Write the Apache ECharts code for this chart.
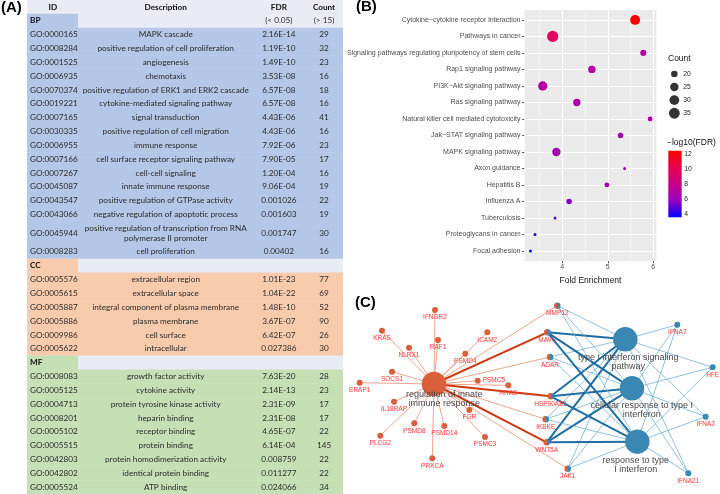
<!DOCTYPE html>
<html><head><meta charset="utf-8">
<script src="https://cdn.jsdelivr.net/npm/echarts@6/dist/echarts.min.js"></script>
<style>html,body{margin:0;padding:0;background:#fff}#c{width:720px;height:494px}</style>
</head><body><div id="c"></div>
<script>
// ================= Panel A : GO table data =================
const bpIds = ['GO:0000165','GO:0008284','GO:0001525','GO:0006935','GO:0070374','GO:0019221','GO:0007165','GO:0030335','GO:0006955','GO:0007166','GO:0007267','GO:0045087','GO:0043547','GO:0043066','GO:0045944','GO:0008283'];
const bpDesc = ['MAPK cascade','positive regulation of cell proliferation','angiogenesis','chemotaxis','positive regulation of ERK1 and ERK2 cascade','cytokine-mediated signaling pathway','signal transduction','positive regulation of cell migration','immune response','cell surface receptor signaling pathway','cell-cell signaling','innate immune response','positive regulation of GTPase activity','negative regulation of apoptotic process','positive regulation of transcription from RNA\npolymerase II promoter','cell proliferation'];
const bpFdr = ['2.16E-14','1.19E-10','1.49E-10','3.53E-08','6.57E-08','6.57E-08','4.43E-06','4.43E-06','7.92E-06','7.90E-05','1.20E-04','9.06E-04','0.001026','0.001603','0.001747','0.00402'];
const bpCount = [29,32,23,16,18,16,41,16,23,17,16,19,22,19,30,16];

const ccIds = ['GO:0005576','GO:0005615','GO:0005887','GO:0005886','GO:0009986','GO:0005622'];
const ccDesc = ['extracellular region','extracellular space','integral component of plasma membrane','plasma membrane','cell surface','intracellular'];
const ccFdr = ['1.01E-23','1.04E-22','1.48E-10','3.67E-07','6.42E-07','0.027386'];
const ccCount = [77,69,52,90,26,30];

const mfIds = ['GO:0008083','GO:0005125','GO:0004713','GO:0008201','GO:0005102','GO:0005515','GO:0042803','GO:0042802','GO:0005524'];
const mfDesc = ['growth factor activity','cytokine activity','protein tyrosine kinase activity','heparin binding','receptor binding','protein binding','protein homodimerization activity','identical protein binding','ATP binding'];
const mfFdr = ['7.63E-20','2.14E-13','2.31E-09','2.31E-08','4.65E-07','6.14E-04','0.008759','0.011277','0.024066'];
const mfCount = [28,23,17,17,22,145,22,22,34];

const tableHeader = ['ID','Description','FDR','Count'];
const tableSubHeader = ['(< 0.05)','(> 15)'];

// ================= Panel B : KEGG dot plot data =================
const keggTerms = ['Cytokine\u2212cytokine receptor interaction','Pathways in cancer','Signaling pathways regulating pluripotency of stem cells','Rap1 signaling pathway','PI3K\u2212Akt signaling pathway','Ras signaling pathway','Natural killer cell mediated cytotoxicity','Jak\u2212STAT signaling pathway','MAPK signaling pathway','Axon guidance','Hepatitis B','Influenza A','Tuberculosis','Proteoglycans in cancer','Focal adhesion'];
const keggFold  = [5.60,3.79,5.78,4.65,3.57,4.32,5.93,5.28,3.87,5.37,4.98,4.15,3.84,3.40,3.30];
const keggCount = [31,37,19,22,28,22,17,18,25,16,17,18,16,16,16];
const keggLogFdr = [12.44,9.6,7.3,7.0,7.0,6.6,6.6,6.1,6.35,5.8,6.2,5.5,4.7,3.9,3.56];
const foldTicks = [4,5,6];
const foldMinorTicks = [3.5,4.5,5.5];
const countLegend = [20,25,30,35];
const fdrLegendTicks = [4,6,8,10,12];

// ================= Panel C : gene-concept network =================
const netCategories = ['regulation of innate\nimmune response','type I interferon signaling\npathway','cellular response to type I\ninterferon','response to type\nI interferon'];
const innateGenes = ['IFNGR2','KRAS','ICAM2','NLRX1','RAF1','PSMD4','SOCS1','PSMC5','ERAP1','HRAS','IL18RAP','FGR','PSMD8','PSMD14','PLCG2','PSMC3','PRKCA'];
const sharedGenes = ['MMP12','MAVS','ADAR','HSP90AB1','IKBKE','WNT5A','JAK1'];
const ifnGenes = ['IFNA7','HFE','IFNA2','IFNA21'];
const strongShared = ['MAVS','HSP90AB1','WNT5A'];
// network layout coordinates (layout space)
const categoryLayout = [[94,94],[285.3,49.3],[292,98.3],[297.3,151.7]];
const innateLayout = [[95,20],[42,40.7],[147.3,42.3],[69,57.7],[98,50],[125.3,63.7],[52,81.7],[137.7,90.7],[19.7,92.7],[168.3,95.3],[54,111.7],[129.3,120],[74.3,133.3],[104.3,136],[40.3,145.7],[145,147],[92.3,168.3]];
const sharedLayout = [[217.3,15.7],[207.3,42.3],[210,67],[210.7,106.3],[205.7,129.3],[206.7,152.3],[227.7,178.7]];
const ifnLayout = [[337.3,34.7],[372.7,77.3],[365.7,126.7],[348.3,183.3]];

// ---------------- styles ----------------
const GROUP_COLORS = {BP:'#B4C7E7', CC:'#F8CBAD', MF:'#C5E0B4'};
const HEAD_BG = '#E9EBF5';
const TFONT = 'Lato, "Liberation Sans", sans-serif';
const SFONT = '"Liberation Sans", Arial, sans-serif';
const COL = {idLeft:0.0095, idRight:0.1614, idMid:0.082, desc:0.439, fdr:0.797, count:0.94};

// build table rows
const groups = [
  {g:'BP', ids:bpIds, desc:bpDesc, fdr:bpFdr, count:bpCount},
  {g:'CC', ids:ccIds, desc:ccDesc, fdr:ccFdr, count:ccCount},
  {g:'MF', ids:mfIds, desc:mfDesc, fdr:mfFdr, count:mfCount}
];
const tableRows = [];
let yCursor = 0;
function pushRow(r, h){ r.y0 = yCursor; r.y1 = yCursor + h; yCursor += h; tableRows.push(r); }
pushRow({kind:'head'}, 1);
groups.forEach((G, gi) => {
  pushRow({kind:'group', g:G.g, first: gi===0}, 1);
  G.ids.forEach((id, i) => {
    const d = G.desc[i];
    pushRow({kind:'item', g:G.g, id, desc:d, fdr:G.fdr[i], count:G.count[i]}, d.indexOf('\n')>=0 ? 1.7 : 1);
  });
});

function renderRow(params, api){
  const r = tableRows[params.dataIndex];
  const a = api.coord([0, r.y0]), b = api.coord([1, r.y1]);
  const x0 = a[0], x1 = b[0], top = a[1], bot = b[1], w = x1 - x0, cy = (top + bot)/2, h = bot - top;
  const fx = f => x0 + w*f;
  const kids = [];
  const txt = (s, x, align, bold) => ({type:'text', style:{text:String(s), x:x, y:cy, align:align, verticalAlign:'middle',
      fontFamily:TFONT, fontSize:8.2, fontWeight: bold?'bold':'normal', fill: bold?'#111':'#2b2b2b', lineHeight:9.5}});
  if (r.kind === 'head'){
    kids.push({type:'rect', shape:{x:x0, y:top, width:w, height:h+0.5}, style:{fill:HEAD_BG}});
    kids.push(txt(tableHeader[0], fx(COL.idMid), 'center', true));
    kids.push(txt(tableHeader[1], fx(COL.desc), 'center', true));
    kids.push(txt(tableHeader[2], fx(COL.fdr), 'center', true));
    kids.push(txt(tableHeader[3], fx(COL.count), 'center', true));
  } else if (r.kind === 'group'){
    kids.push({type:'rect', shape:{x:x0, y:top, width:w, height:h+0.5}, style:{fill:HEAD_BG}});
    kids.push({type:'rect', shape:{x:x0, y:top, width:w*COL.idRight, height:h+0.5}, style:{fill:GROUP_COLORS[r.g]}});
    kids.push(txt(r.g, fx(COL.idLeft), 'left', true));
    if (r.first){
      kids.push(txt(tableSubHeader[0], fx(COL.fdr), 'center', false));
      kids.push(txt(tableSubHeader[1], fx(COL.count), 'center', false));
    }
  } else {
    kids.push({type:'rect', shape:{x:x0, y:top, width:w, height:h+0.5}, style:{fill:GROUP_COLORS[r.g]}});
    kids.push(txt(r.id, fx(COL.idLeft), 'left', false));
    kids.push(txt(r.desc, fx(COL.desc), 'center', false));
    kids.push(txt(r.fdr, fx(COL.fdr), 'center', false));
    kids.push(txt(r.count, fx(COL.count), 'center', false));
  }
  return {type:'group', children:kids};
}

// ---------------- Panel B helpers ----------------
const FDR_MIN = 3.56, FDR_MAX = 12.44;
const GRAD = ['#0000FF','#9A00C2','#C90089','#E8004F','#FF0000'];
function dotSize(c){ return 3 + 8.4*Math.sqrt(Math.max(0, c - 16)/22); }
const keggData = keggTerms.map((t,i) => [keggFold[i], i+1, keggLogFdr[i], keggCount[i]]);

// ---------------- Panel C network ----------------
const ORANGE = '#D9603B', BLUE = '#3A87B3';
const netNodes = [];
const netLinks = [];
netCategories.forEach((c,i) => {
  const off = [[10.3,15.5],[3,22.7],[9.7,21.9],[-1.6,23.3]][i];
  netNodes.push({name:c, value:categoryLayout[i], symbolSize:24.5,
    itemStyle:{color: i===0 ? ORANGE : BLUE},
    label:{position:'inside', offset:off, color:'#4A4A4A', fontSize:9, lineHeight:9, fontFamily:SFONT}});
});
const geneIndex = {};
innateGenes.forEach((g,i) => { geneIndex[g] = netNodes.length;
  netNodes.push({name:g, value:innateLayout[i], symbolSize:6, itemStyle:{color:ORANGE},
    label: g==='PSMC5' ? {position:'right', distance:2} : undefined}); });
sharedGenes.forEach((g,i) => { geneIndex[g] = netNodes.length;
  netNodes.push({name:g, value:sharedLayout[i], symbolSize:6.5,
    itemStyle:{color:{type:'linear', x:0, y:0, x2:1, y2:0, colorStops:[{offset:0,color:ORANGE},{offset:0.5,color:ORANGE},{offset:0.5,color:BLUE},{offset:1,color:BLUE}]}}}); });
ifnGenes.forEach((g,i) => { geneIndex[g] = netNodes.length;
  netNodes.push({name:g, value:ifnLayout[i], symbolSize:6, itemStyle:{color:BLUE}}); });

innateGenes.forEach(g => netLinks.push({source:0, target:geneIndex[g], lineStyle:{color:'#EC8D6E', width:0.8}}));
sharedGenes.forEach(g => {
  const strong = strongShared.indexOf(g) >= 0;
  netLinks.push({source:0, target:geneIndex[g], lineStyle: strong ? {color:'#CC3A12', width:2} : {color:'#EC8D6E', width:0.8}});
});
[1,2,3].forEach(h => {
  sharedGenes.forEach(g => {
    const strong = strongShared.indexOf(g) >= 0;
    netLinks.push({source:h, target:geneIndex[g], lineStyle: strong ? {color:'#1F6DA3', width:2} : {color:'#72B1D8', width:0.8}});
  });
  ifnGenes.forEach(g => netLinks.push({source:h, target:geneIndex[g], lineStyle:{color:'#72B1D8', width:0.8}}));
});

const chart = echarts.init(document.getElementById('c'), null, {renderer:'canvas'});
const option = {
  animation:false,
  backgroundColor:'#ffffff',
  grid:[
    {left:27, top:0, width:316, height:494},                                 // A table
    {left:524.5, top:10, width:132, height:250.9, show:true, backgroundColor:'#EBEBEB', borderWidth:0}, // B
    {left:668, top:67.4, width:12.7, height:52.4},                           // size legend
    {left:668.3, top:150.7, width:13.4, height:66.6},                        // colour bar
    {left:340, top:290, width:380, height:204}                               // C network
  ],
  xAxis:[
    {gridIndex:0, type:'value', min:0, max:1, show:false},
    {gridIndex:1, type:'value', min:3.17, max:6.07,
      axisLine:{show:false}, splitLine:{show:false},
      axisTick:{show:true, length:2.5, customValues:foldTicks, lineStyle:{color:'#333', width:0.8}},
      axisLabel:{customValues:foldTicks, fontSize:7, color:'#4D4D4D', margin:3, fontFamily:SFONT},
      name:'Fold Enrichment', nameLocation:'middle', nameGap:14,
      nameTextStyle:{fontSize:8.5, color:'#111', fontFamily:SFONT}},
    {gridIndex:2, type:'value', min:-1, max:1, show:false},
    {gridIndex:3, type:'value', min:0, max:1, show:false},
    {gridIndex:4, type:'value', min:0, max:380, show:false}
  ],
  yAxis:[
    {gridIndex:0, type:'value', min:0, max:yCursor, inverse:true, show:false},
    {gridIndex:1, type:'value', min:0.4, max:15.6, inverse:true,
      axisLine:{show:false}, splitLine:{show:false},
      axisTick:{show:true, length:2.5, customValues:keggTerms.map((t,i)=>i+1), lineStyle:{color:'#333', width:0.8}},
      axisLabel:{customValues:keggTerms.map((t,i)=>i+1), formatter:v => keggTerms[Math.round(v)-1] || '',
        fontSize:7, color:'#4D4D4D', margin:4, fontFamily:SFONT}},
    {gridIndex:2, type:'category', data:countLegend.map(String), position:'right', inverse:true,
      axisLine:{show:false}, axisTick:{show:false},
      axisLabel:{fontSize:6.8, color:'#222', margin:2.5, fontFamily:SFONT}},
    {gridIndex:3, type:'value', min:FDR_MIN, max:FDR_MAX, position:'right',
      axisLine:{show:false}, splitLine:{show:false},
      axisTick:{show:true, inside:true, length:2.5, customValues:fdrLegendTicks, lineStyle:{color:'#fff', width:0.8}},
      axisLabel:{customValues:fdrLegendTicks, fontSize:6.8, color:'#222', margin:2.5, fontFamily:SFONT}},
    {gridIndex:4, type:'value', min:0, max:204, inverse:true, show:false}
  ],
  visualMap:[{type:'continuous', show:false, seriesIndex:2, dimension:2, min:FDR_MIN, max:FDR_MAX,
    inRange:{color:GRAD}}],
  graphic:[
    {type:'text', left:1, top:0, style:{text:'(A)', font:'bold 15px "Liberation Sans", Arial', fill:'#000'}},
    {type:'text', left:356, top:-1, style:{text:'(B)', font:'bold 15px "Liberation Sans", Arial', fill:'#000'}},
    {type:'text', left:355, top:295, style:{text:'(C)', font:'bold 15px "Liberation Sans", Arial', fill:'#000'}},
    {type:'text', left:668, top:54, style:{text:'Count', font:'8.5px "Liberation Sans", Arial', fill:'#111'}},
    {type:'text', left:667, top:138, style:{text:'\u2212log10(FDR)', font:'8.5px "Liberation Sans", Arial', fill:'#111'}}
  ],
  series:[
    {type:'custom', xAxisIndex:0, yAxisIndex:0, data:tableRows.map((r,i)=>[i]), renderItem:renderRow, silent:true},
    {type:'scatter', xAxisIndex:1, yAxisIndex:1, data:[], z:1, silent:true,
      markLine:{silent:true, symbol:['none','none'], label:{show:false}, z:1, animation:false,
        emphasis:{disabled:true},
        data: foldMinorTicks.map(v=>({xAxis:v, lineStyle:{color:'#fff', width:0.5, type:'solid'}}))
          .concat(foldTicks.map(v=>({xAxis:v, lineStyle:{color:'#fff', width:1, type:'solid'}})))
          .concat(keggTerms.map((t,i)=>({yAxis:i+1, lineStyle:{color:'#fff', width:1, type:'solid'}})))}},
    {type:'scatter', xAxisIndex:1, yAxisIndex:1, data:keggData, z:3, silent:true,
      symbolSize: v => dotSize(v[3]), itemStyle:{opacity:1}},
    {type:'scatter', xAxisIndex:2, yAxisIndex:2, data:countLegend.map((c,i)=>[0,i]), silent:true,
      symbolSize: v => dotSize(countLegend[v[1]]), itemStyle:{color:'#000'}},
    {type:'custom', xAxisIndex:3, yAxisIndex:3, data:[[0]], silent:true, z:1,
      renderItem:(p, api) => {
        const a = api.coord([0, FDR_MAX]), b = api.coord([1, FDR_MIN]);
        return {type:'rect', shape:{x:a[0], y:a[1], width:b[0]-a[0], height:b[1]-a[1]},
          style:{fill:{type:'linear', x:0, y:1, x2:0, y2:0,
            colorStops:GRAD.map((c,i)=>({offset:i/(GRAD.length-1), color:c}))}}};
      }},
    {type:'graph', coordinateSystem:'cartesian2d', xAxisIndex:4, yAxisIndex:4, silent:true,
      data:netNodes, links:netLinks, edgeSymbol:['none','none'],
      lineStyle:{opacity:1, curveness:0},
      label:{show:true, position:'bottom', distance:1, fontSize:6.5, color:'#FF3535', fontFamily:SFONT},
      emphasis:{disabled:true}, z:2}
  ]
};
chart.setOption(option);
</script></body></html>
